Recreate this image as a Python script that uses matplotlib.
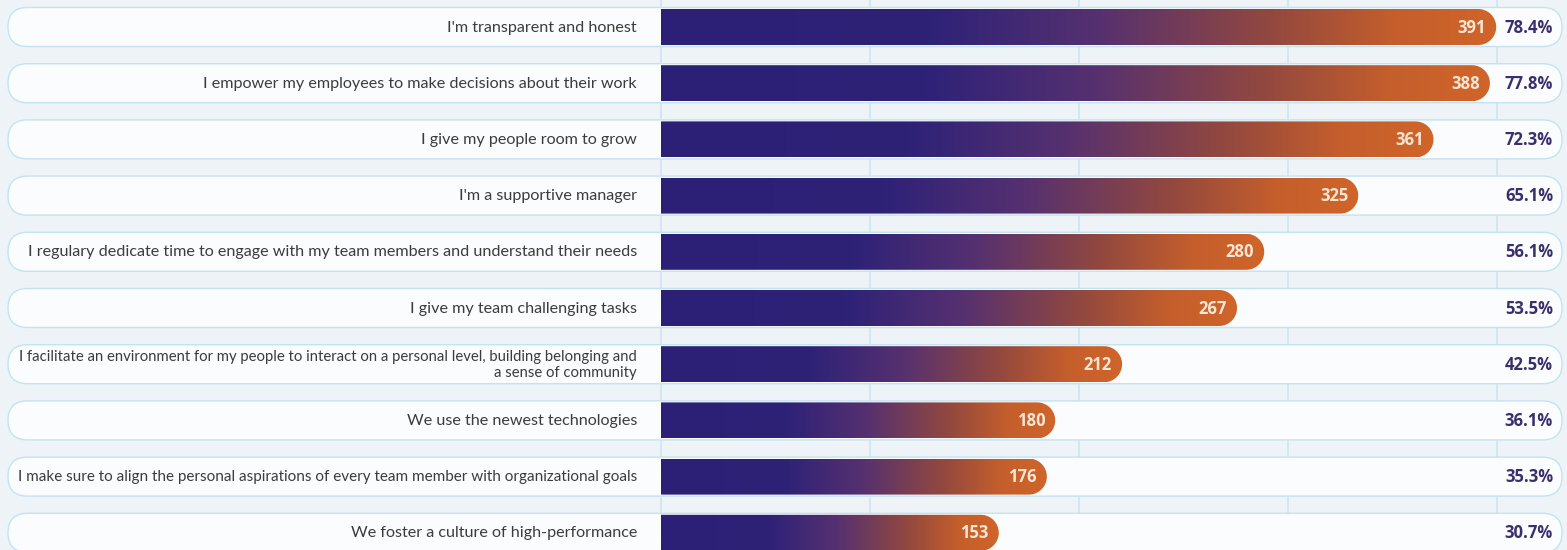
import numpy as np
import matplotlib
matplotlib.use("Agg")
import matplotlib.pyplot as plt
from matplotlib.patches import FancyBboxPatch, Polygon
from matplotlib.colors import LinearSegmentedColormap

categories = [
    "I'm transparent and honest",
    "I empower my employees to make decisions about their work",
    "I give my people room to grow",
    "I'm a supportive manager",
    "I regulary dedicate time to engage with my team members and understand their needs",
    "I give my team challenging tasks",
    "I facilitate an environment for my people to interact on a personal level, building belonging and\na sense of community",
    "We use the newest technologies",
    "I make sure to align the personal aspirations of every team member with organizational goals",
    "We foster a culture of high-performance",
]
counts = [391, 388, 361, 325, 280, 267, 212, 180, 176, 153]
percents = [78.4, 77.8, 72.3, 65.1, 56.1, 53.5, 42.5, 36.1, 35.3, 30.7]
grid_ticks = [0, 100, 200, 300, 400]

W, H = 1567, 550
BG = "#edf3f7"
fig = plt.figure(figsize=(W / 100, H / 100), dpi=100)
fig.patch.set_facecolor(BG)
ax = fig.add_axes([0, 0, 1, 1])
ax.set_facecolor(BG)
ax.axis("off")

# layout (pixels)
x0px = 661.0
ppu = 2.09          # pixels per unit
y0px = 27.0
pitch = 56.2
dx = 1.0 / ppu
dy = 1.0 / pitch

xmin = -x0px * dx
xmax = (W - x0px) * dx
ytop = -y0px * dy
ybot = (H - y0px) * dy
ax.set_xlim(xmin, xmax)
ax.set_ylim(ybot, ytop)

def px2x(p):
    return (p - x0px) * dx

ax.vlines(grid_ticks, ybot, ytop, colors="#cde5f1", linewidth=1.2, zorder=0)

aspect = dy / dx
pill_h = 39 * dy
pill_r = 19.5 * dx
bar_ry = 18 * dy
bar_rx = 18 * dx

cmap = LinearSegmentedColormap.from_list(
    "grad",
    [(0.0, "#2b2076"), (0.32, "#2e2277"), (0.52, "#553070"),
     (0.73, "#92483f"), (0.88, "#c45e2c"), (1.0, "#d0652a")])
grad = np.linspace(0, 1, 256).reshape(1, -1)

labels = []
for i, (cat, c, p) in enumerate(zip(categories, counts, percents)):
    pill = FancyBboxPatch((px2x(8), i - pill_h / 2), px2x(1562) - px2x(8), pill_h,
                          boxstyle=f"round,pad=0,rounding_size={pill_r}",
                          mutation_aspect=aspect,
                          facecolor="#fbfcfd", edgecolor="#c3e3f1", linewidth=1.0,
                          zorder=1)
    ax.add_patch(pill)

    t = np.linspace(-np.pi / 2, np.pi / 2, 40)
    arc = np.column_stack([c + bar_rx * np.cos(t), i + bar_ry * np.sin(t)])
    pts = np.vstack([[0, i - bar_ry], arc, [0, i + bar_ry]])
    bar = Polygon(pts, closed=True, facecolor="none", edgecolor="none", zorder=2)
    ax.add_patch(bar)
    im = ax.imshow(grad, cmap=cmap, aspect="auto",
                   extent=(0, c + bar_rx, i + bar_ry, i - bar_ry),
                   interpolation="bilinear", zorder=2)
    im.set_clip_path(bar)

    ax.text(c + bar_rx - 10 * dx, i + 0.01, str(c), ha="right", va="center",
            fontsize=12, fontweight="bold", family="Open Sans", color="#f8e6d4", zorder=3)
    ax.text(px2x(1553), i + 0.01, f"{p:.1f}%", ha="right", va="center",
            fontsize=12, fontweight="bold", family="Open Sans", color="#3a2e6c", zorder=3)
    lt = ax.text(px2x(637), i + 0.01, cat, ha="right", va="center", multialignment="right",
                 fontsize=11.6, family="Lato", color="#3c3c3c", linespacing=1.2, zorder=3)
    labels.append(lt)

ax.set_xlim(xmin, xmax)
ax.set_ylim(ybot, ytop)

# shrink labels that would overflow the pill on the left
fig.canvas.draw()
r = fig.canvas.get_renderer()
for lt in labels:
    bb = lt.get_window_extent(r)
    avail = 637 - 18
    if bb.width > avail:
        lt.set_fontsize(lt.get_fontsize() * avail / bb.width)

fig.savefig("out.png", dpi=100, facecolor=BG)
